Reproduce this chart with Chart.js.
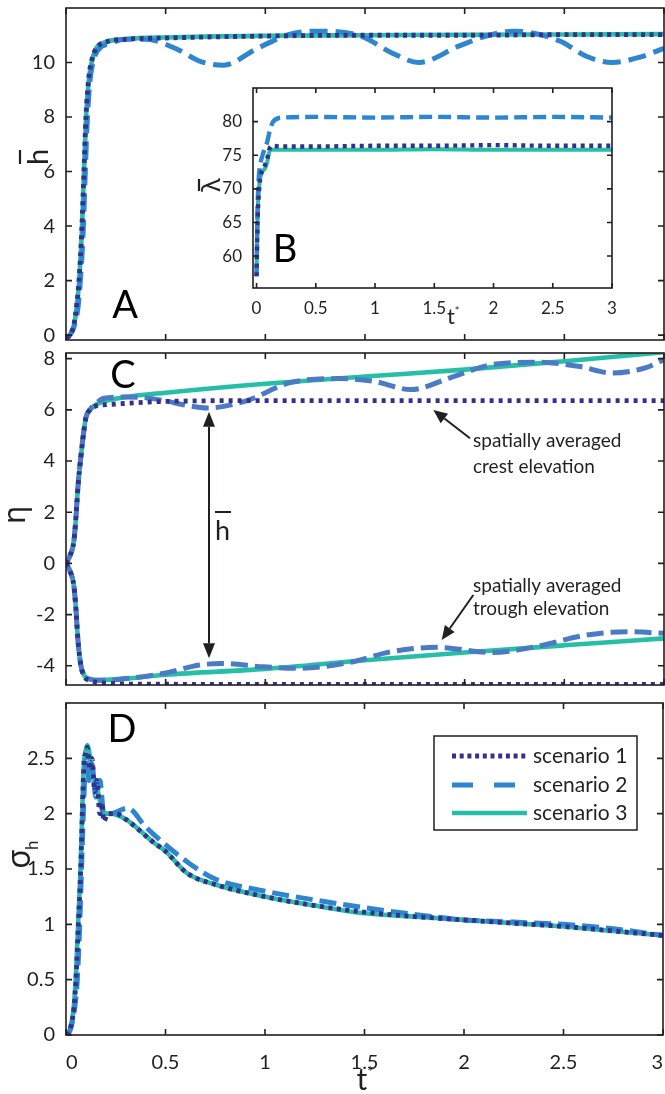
<!DOCTYPE html>
<html>
<head>
<meta charset="utf-8">
<script src="https://cdn.jsdelivr.net/npm/chart.js@4.4.0/dist/chart.umd.min.js"></script>
<style>
  body { margin: 0; background: #fff; width: 665px; height: 1094px; position: relative; overflow: hidden; }
  canvas { position: absolute; }
</style>
</head>
<body>
<canvas id="cA" width="665" height="345" style="left:0;top:0"></canvas>
<canvas id="cB" width="430" height="250" style="left:190px;top:80px"></canvas>
<canvas id="cC" width="665" height="345" style="left:0;top:345px"></canvas>
<canvas id="cD" width="665" height="404" style="left:0;top:690px"></canvas>
<script>
// tick values
const tTicks = [0, 0.5, 1, 1.5, 2, 2.5, 3];
const hTicks = [0, 2, 4, 6, 8, 10];
const lamTicks = [60, 65, 70, 75, 80];
const etaTicks = [-4, -2, 0, 2, 4, 6, 8];
const sigTicks = [0, 0.5, 1, 1.5, 2, 2.5];
const scenarioLabels = ['scenario 1', 'scenario 2', 'scenario 3'];

// A: mean wave height
const hT13 = [0, 0.02, 0.04, 0.055, 0.065, 0.08, 0.09, 0.1, 0.115, 0.13, 0.15, 0.2, 0.3, 0.5, 1.0, 1.5, 2.0, 2.5, 3.0];
const hS1 = [-0.1, 0.0, 0.4, 1.2, 2.0, 4.0, 6.0, 8.0, 9.5, 10.1, 10.5, 10.75, 10.85, 10.9, 10.97, 11.0, 11.0, 11.02, 11.02];
const hS3 = [-0.1, 0.0, 0.35, 1.1, 1.9, 3.9, 5.9, 7.9, 9.4, 10.05, 10.5, 10.75, 10.86, 10.92, 10.98, 11.0, 11.02, 11.03, 11.04];
const hT2 = [0, 0.02, 0.04, 0.06, 0.07, 0.085, 0.095, 0.105, 0.12, 0.135, 0.16, 0.22, 0.3, 0.4, 0.56, 0.67, 0.79, 0.95, 1.12, 1.25, 1.48, 1.63, 1.77, 1.97, 2.12, 2.25, 2.48, 2.61, 2.74, 2.88, 3.0];
const hS2 = [-0.1, 0.0, 0.3, 1.0, 1.8, 3.6, 5.6, 7.6, 9.3, 10.0, 10.45, 10.7, 10.85, 10.85, 10.48, 10.05, 9.9, 10.48, 11.03, 11.15, 10.97, 10.37, 10.0, 10.6, 11.0, 11.15, 10.78, 10.23, 10.0, 10.2, 10.52];

// B: mean wavelength
const lamT = [0, 0.005, 0.01, 0.02, 0.03, 0.05, 0.07, 0.09, 0.11, 0.13, 0.2, 0.5, 1.0, 1.5, 2.0, 2.5, 3.0];
const lamS1 = [57, 62, 66, 69.5, 71.5, 72.8, 73.5, 74.5, 76.0, 76.4, 76.3, 76.3, 76.4, 76.4, 76.5, 76.4, 76.4];
const lamS3 = [57.5, 63, 67, 70, 71.5, 72.6, 73.0, 74.0, 75.6, 75.8, 75.8, 75.8, 75.8, 75.9, 75.8, 75.8, 75.8];
const lamT2 = [0, 0.005, 0.01, 0.02, 0.03, 0.05, 0.07, 0.09, 0.11, 0.14, 0.22, 0.5, 1.0, 1.5, 2.0, 2.5, 3.0];
const lamS2 = [57, 63, 68, 72, 73.5, 75, 76, 77, 78.5, 80, 80.6, 80.7, 80.6, 80.7, 80.6, 80.7, 80.6];

// C: crest and trough elevation
const etaT = [0, 0.02, 0.04, 0.05, 0.06, 0.075, 0.09, 0.1, 0.12, 0.15, 0.2, 0.3, 0.5, 1.0, 1.5, 2.0, 2.5, 3.0];
const crestS1 = [0, 0.3, 0.9, 1.8, 3.0, 4.2, 5.2, 5.7, 6.0, 6.15, 6.2, 6.25, 6.33, 6.36, 6.36, 6.36, 6.36, 6.36];
const crestS3 = [0, 0.3, 0.9, 1.8, 3.0, 4.2, 5.2, 5.7, 6.0, 6.2, 6.35, 6.5, 6.67, 7.02, 7.3, 7.57, 7.9, 8.25];
const troughS1 = [0, -0.3, -0.9, -1.8, -3.0, -4.0, -4.4, -4.5, -4.58, -4.64, -4.68, -4.71, -4.72, -4.73, -4.73, -4.73, -4.73, -4.73];
const troughS3 = [0, -0.3, -0.9, -1.8, -3.0, -4.0, -4.35, -4.45, -4.52, -4.56, -4.55, -4.5, -4.35, -4.12, -3.78, -3.48, -3.2, -2.93];
const crestT2 = [0, 0.02, 0.04, 0.05, 0.06, 0.075, 0.09, 0.1, 0.12, 0.15, 0.19, 0.3, 0.39, 0.5, 0.6, 0.71, 0.9, 1.12, 1.37, 1.54, 1.73, 1.93, 2.14, 2.37, 2.57, 2.74, 2.91, 3.0];
const crestS2 = [0, 0.3, 0.9, 1.8, 3.0, 4.2, 5.2, 5.7, 6.0, 6.25, 6.45, 6.5, 6.48, 6.35, 6.18, 6.07, 6.34, 7.05, 7.22, 7.12, 6.79, 7.26, 7.77, 7.86, 7.7, 7.44, 7.65, 7.96];
const troughT2 = [0, 0.02, 0.04, 0.05, 0.06, 0.075, 0.09, 0.1, 0.12, 0.15, 0.2, 0.3, 0.5, 0.67, 0.78, 0.99, 1.16, 1.44, 1.63, 1.86, 2.14, 2.35, 2.61, 2.82, 3.0];
const troughS2 = [0, -0.3, -0.9, -1.8, -3.0, -4.0, -4.35, -4.45, -4.52, -4.56, -4.56, -4.5, -4.28, -3.97, -3.91, -4.04, -4.1, -3.84, -3.45, -3.28, -3.48, -3.26, -2.8, -2.67, -2.73];

// D: std of wave height
const sigT1 = [0, 0.02, 0.04, 0.05, 0.062, 0.074, 0.082, 0.09, 0.1, 0.107, 0.12, 0.13, 0.145, 0.155, 0.17, 0.18, 0.19, 0.21, 0.25, 0.3, 0.44, 0.5, 0.61, 0.75, 1.0, 1.25, 1.5, 1.75, 2.0, 2.25, 2.5, 2.75, 3.0];
const sigS1 = [0, 0.05, 0.25, 0.5, 1.0, 1.5, 2.0, 2.45, 2.55, 2.6, 2.4, 2.5, 2.2, 2.3, 2.0, 2.1, 1.93, 2.0, 2.0, 1.95, 1.74, 1.66, 1.46, 1.36, 1.25, 1.17, 1.11, 1.07, 1.04, 1.01, 0.98, 0.94, 0.9];
const sigT3 = [0, 0.02, 0.04, 0.05, 0.062, 0.074, 0.082, 0.09, 0.1, 0.107, 0.13, 0.16, 0.19, 0.22, 0.3, 0.44, 0.5, 0.61, 0.75, 1.0, 1.25, 1.5, 1.75, 2.0, 2.25, 2.5, 2.75, 3.0];
const sigS3 = [0, 0.05, 0.27, 0.55, 1.05, 1.55, 2.05, 2.45, 2.58, 2.62, 2.4, 2.2, 2.0, 2.0, 1.95, 1.74, 1.66, 1.46, 1.36, 1.25, 1.17, 1.1, 1.07, 1.04, 1.01, 0.98, 0.94, 0.9];
const sigT2 = [0, 0.02, 0.04, 0.055, 0.067, 0.078, 0.086, 0.095, 0.105, 0.115, 0.13, 0.15, 0.17, 0.19, 0.22, 0.31, 0.4, 0.5, 0.62, 0.75, 1.0, 1.25, 1.5, 1.75, 2.0, 2.25, 2.5, 2.75, 3.0];
const sigS2 = [0, 0.04, 0.2, 0.45, 0.9, 1.5, 1.95, 2.35, 2.5, 2.3, 2.45, 2.15, 2.3, 2.0, 2.0, 2.05, 1.88, 1.72, 1.55, 1.41, 1.3, 1.22, 1.15, 1.09, 1.04, 1.02, 1.0, 0.96, 0.9];

const ink = '#231f20';
const font = 'Lato, "Noto Sans", sans-serif';
const greek = '"Noto Sans", "DejaVu Sans", sans-serif';

const styles = [
  { color: '#35308f', dash: [4, 4.5], width: 4.8, order: 1 },
  { color: '#2e86cf', dash: [18, 8], width: 5, order: 2 },
  { color: '#26bfa6', dash: [], width: 4.6, order: 3 }
];

function pts(t, v) {
  return t.map((x, i) => ({ x: x, y: v[i] }));
}

function series(k, t, v, extra) {
  const s = styles[k];
  return Object.assign({
    label: scenarioLabels[k], data: pts(t, v),
    borderColor: s.color, borderDash: s.dash, borderWidth: s.width, order: s.order,
    pointRadius: 0, fill: false, cubicInterpolationMode: 'monotone',
    borderCapStyle: 'butt', borderJoinStyle: 'round', clip: 0
  }, extra || {});
}

const extras = {};

const frame = {
  id: 'frame',
  beforeDraw(chart) {
    if (chart.canvas.id !== 'cB') return;
    const a = chart.chartArea;
    chart.ctx.fillStyle = '#fff';
    chart.ctx.fillRect(a.left, a.top, a.right - a.left, a.bottom - a.top);
  },
  afterDraw(chart) {
    const { ctx, chartArea: a, scales: { x, y } } = chart;
    const len = chart.canvas.id === 'cB' ? 5 : 6;
    ctx.save();
    ctx.strokeStyle = ink;
    ctx.lineWidth = 1.6;
    ctx.beginPath();
    x.ticks.forEach(t => {
      const p = x.getPixelForValue(t.value);
      ctx.moveTo(p, a.bottom); ctx.lineTo(p, a.bottom - len);
      ctx.moveTo(p, a.top); ctx.lineTo(p, a.top + len);
    });
    y.ticks.forEach(t => {
      const p = y.getPixelForValue(t.value);
      ctx.moveTo(a.left, p); ctx.lineTo(a.left + len, p);
      ctx.moveTo(a.right, p); ctx.lineTo(a.right - len, p);
    });
    ctx.stroke();
    ctx.strokeRect(a.left, a.top, a.right - a.left, a.bottom - a.top);
    ctx.restore();
    if (extras[chart.canvas.id]) {
      ctx.save();
      extras[chart.canvas.id](ctx, chart);
      ctx.restore();
    }
  }
};

function makeChart(id, datasets, c) {
  return new Chart(document.getElementById(id), {
    type: 'line',
    data: { datasets: datasets },
    options: {
      responsive: false, animation: false, devicePixelRatio: 1,
      layout: { padding: c.padding },
      plugins: { legend: { display: false }, tooltip: { enabled: false } },
      scales: {
        x: {
          type: 'linear', min: c.xMin, max: 3,
          grid: { display: false }, border: { display: false },
          afterBuildTicks: s => { s.ticks = tTicks.map(v => ({ value: v })); },
          afterFit: s => { s.height = c.xH; s.paddingLeft = 0; s.paddingRight = 0; },
          ticks: { display: c.xLabels, color: ink, font: { family: font, size: c.fs }, padding: c.xPad,
                   maxRotation: 0, align: c.xAlign, callback: v => String(v) }
        },
        y: {
          type: 'linear', min: c.yMin, max: c.yMax,
          grid: { display: false }, border: { display: false },
          afterBuildTicks: s => { s.ticks = c.yTicks.map(v => ({ value: v })); },
          afterFit: s => { s.width = c.yW; s.paddingTop = 0; s.paddingBottom = 0; },
          ticks: { color: ink, font: { family: font, size: c.fs }, padding: 3, callback: v => String(v) }
        }
      }
    },
    plugins: [frame]
  });
}

function arrow(ctx, x0, y0, x1, y1, len, half) {
  const ang = Math.atan2(y1 - y0, x1 - x0);
  const c = Math.cos(ang), s = Math.sin(ang);
  ctx.beginPath();
  ctx.moveTo(x0, y0);
  ctx.lineTo(x1 - len * c, y1 - len * s);
  ctx.stroke();
  ctx.beginPath();
  ctx.moveTo(x1, y1);
  ctx.lineTo(x1 - len * c + half * s, y1 - len * s - half * c);
  ctx.lineTo(x1 - len * c - half * s, y1 - len * s + half * c);
  ctx.closePath();
  ctx.fill();
}

function letter(ctx, txt, x, y) {
  ctx.fillStyle = '#000';
  ctx.font = '38px ' + font;
  ctx.textAlign = 'center';
  ctx.textBaseline = 'alphabetic';
  ctx.fillText(txt, x, y);
}

function barLabel(ctx, ch, fam, size, x, y, barOff, barHalf) {
  // rotated glyph with an overbar; x is the baseline position
  ctx.translate(x, y);
  ctx.rotate(-Math.PI / 2);
  ctx.fillStyle = ink;
  ctx.font = size + 'px ' + fam;
  ctx.textAlign = 'center';
  ctx.textBaseline = 'alphabetic';
  ctx.fillText(ch, 0, 0);
  ctx.strokeStyle = ink;
  ctx.lineWidth = 2.2;
  ctx.beginPath();
  ctx.moveTo(-barHalf, -barOff);
  ctx.lineTo(barHalf, -barOff);
  ctx.stroke();
}

function tStar(ctx, x, y, size) {
  ctx.fillStyle = ink;
  ctx.textBaseline = 'alphabetic';
  ctx.textAlign = 'center';
  ctx.font = size + 'px ' + font;
  ctx.fillText('t', x, y);
  ctx.textAlign = 'left';
  ctx.font = Math.round(size * 0.5) + 'px ' + font;
  ctx.fillText('*', x + size * 0.17, y - size * 0.42);
}

extras.cA = (ctx) => {
  letter(ctx, 'A', 125, 318);
  ctx.save();
  barLabel(ctx, 'h', font, 29, 48, 157, 28, 7);
  ctx.restore();
};

extras.cB = (ctx) => {
  letter(ctx, 'B', 95, 182);
  ctx.save();
  barLabel(ctx, 'λ', greek, 26, 30, 105, 21, 6);
  ctx.restore();
  tStar(ctx, 261, 244, 22);
};

extras.cC = (ctx) => {
  letter(ctx, 'C', 123, 43);
  ctx.save();
  ctx.translate(25, 170);
  ctx.rotate(-Math.PI / 2);
  ctx.fillStyle = ink;
  ctx.font = '30px ' + greek;
  ctx.textAlign = 'center';
  ctx.fillText('η', 0, 0);
  ctx.restore();

  ctx.strokeStyle = ink;
  ctx.fillStyle = ink;
  ctx.lineWidth = 2;
  arrow(ctx, 209, 190, 209, 66.7, 15, 6);
  arrow(ctx, 209, 190, 209, 313.3, 15, 6);
  ctx.font = '27px ' + font;
  ctx.textAlign = 'left';
  ctx.fillText('h', 215, 195);
  ctx.beginPath();
  ctx.moveTo(215, 167); ctx.lineTo(231, 167);
  ctx.stroke();

  arrow(ctx, 470, 93.3, 433.3, 65, 14, 6);
  arrow(ctx, 473.3, 250, 441.7, 295, 14, 6);
  ctx.font = '19px ' + font;
  ctx.fillText('spatially averaged', 473, 102);
  ctx.fillText('crest elevation', 473, 128);
  ctx.fillText('spatially averaged', 473, 247);
  ctx.fillText('trough elevation', 473, 270);
};

extras.cD = (ctx, chart) => {
  letter(ctx, 'D', 122, 52);
  ctx.save();
  ctx.translate(30, 169);
  ctx.rotate(-Math.PI / 2);
  ctx.fillStyle = ink;
  ctx.font = '32px ' + greek;
  ctx.textAlign = 'center';
  ctx.fillText('σ', 0, 0);
  ctx.font = '17px ' + font;
  ctx.textAlign = 'left';
  ctx.fillText('h', 9, 8);
  ctx.restore();

  tStar(ctx, 362, 400, 30);

  // legend
  ctx.strokeStyle = ink;
  ctx.lineWidth = 1.5;
  ctx.fillStyle = '#fff';
  ctx.fillRect(434, 46, 203, 94);
  ctx.strokeRect(434, 46, 203, 94);
  const rows = [66, 95, 123];
  const legendDash = [[4, 3.7], [21, 21], []];
  chart.data.datasets.forEach(ds => {
    const k = scenarioLabels.indexOf(ds.label);
    ctx.save();
    ctx.strokeStyle = ds.borderColor;
    ctx.lineWidth = ds.borderWidth;
    ctx.setLineDash(legendDash[k]);
    ctx.beginPath();
    ctx.moveTo(452, rows[k]); ctx.lineTo(527, rows[k]);
    ctx.stroke();
    ctx.restore();
    ctx.fillStyle = ink;
    ctx.font = '21px ' + font;
    ctx.textAlign = 'left';
    ctx.textBaseline = 'middle';
    ctx.fillText(ds.label, 533, rows[k]);
  });
};

makeChart('cA', [
  series(0, hT13, hS1),
  series(1, hT2, hS2),
  series(2, hT13, hS3)
], { padding: { top: 8, right: 1, left: 0, bottom: 0 }, xMin: 0, yMin: -0.18, yMax: 12, yTicks: hTicks,
     yW: 66, xH: 5, xLabels: false, fs: 20, xPad: 0, xAlign: 'center' });

makeChart('cB', [
  series(0, lamT, lamS1, { borderWidth: 4.4 }),
  series(1, lamT2, lamS2, { borderDash: [13, 6], borderWidth: 4.4 }),
  series(2, lamT, lamS3, { borderWidth: 4 })
], { padding: { top: 8, right: 8, left: 0, bottom: 0 }, xMin: -0.03, yMin: 55.25, yMax: 85, yTicks: lamTicks,
     yW: 63, xH: 42, xLabels: true, fs: 17, xPad: 2, xAlign: 'center' });

makeChart('cC', [
  series(0, etaT, crestS1, { borderDash: [4, 5] }),
  series(0, etaT, troughS1, { borderDash: [4, 5] }),
  series(1, crestT2, crestS2, { borderColor: '#4a7bc4', borderDash: [17, 7] }),
  series(1, troughT2, troughS2, { borderColor: '#4a7bc4', borderDash: [17, 7] }),
  series(2, etaT, crestS3),
  series(2, etaT, troughS3)
], { padding: { top: 8, right: 1, left: 0, bottom: 0 }, xMin: 0, yMin: -4.75, yMax: 8.22, yTicks: etaTicks,
     yW: 66, xH: 5, xLabels: false, fs: 20, xPad: 0, xAlign: 'center' });

makeChart('cD', [
  series(0, sigT1, sigS1),
  series(1, sigT2, sigS2, { borderDash: [17, 7] }),
  series(2, sigT3, sigS3)
], { padding: { top: 13, right: 2, left: 0, bottom: 0 }, xMin: 0, yMin: 0, yMax: 3, yTicks: sigTicks,
     yW: 66, xH: 59, xLabels: true, fs: 20, xPad: 8, xAlign: 'inner' });
</script>
</body>
</html>
